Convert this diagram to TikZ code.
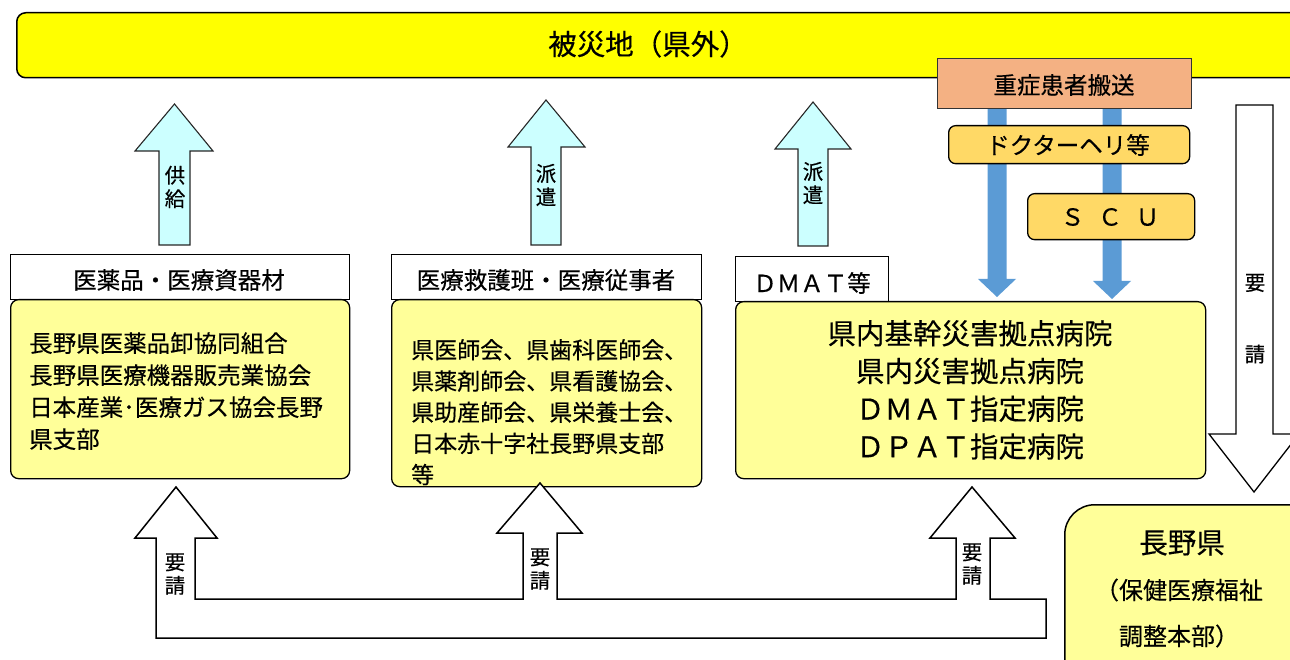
\documentclass[tikz,border=0pt]{standalone}
\usepackage{fontspec}
\setmainfont{Noto Sans CJK JP}[FakeBold=0.35]
\definecolor{topyellow}{HTML}{FFFF00}
\definecolor{lightyellow}{HTML}{FFFF99}
\definecolor{lightcyan}{HTML}{CCFFFF}
\definecolor{salmonbox}{HTML}{F4B183}
\definecolor{goldbox}{HTML}{FFD966}
\definecolor{bluearrow}{HTML}{5B9BD5}
\begin{document}
\begin{tikzpicture}[x=1pt,y=-1pt,line join=miter,
  fsmall/.style={font=\fontsize{20.5}{23.5}\selectfont},
  fmid/.style={font=\fontsize{23.5}{32}\selectfont},
  fbig/.style={font=\fontsize{28.5}{37.7}\selectfont},
  hdrbox/.style={draw=black,fill=white,line width=1.2,inner sep=0,fmid},
  bodybox/.style={draw=black,fill=lightyellow,line width=1.3,rounded corners=8,inner sep=0},
  goldrect/.style={draw=black,fill=goldbox,line width=1.3,rounded corners=7,inner sep=0,fmid},
  uparrow/.style={draw=black!85,fill=lightcyan,line width=1.1},
  hollowarrow/.style={draw=black,fill=white,line width=1.5},
  bluearr/.style={fill=bluearrow,draw=none}]
\useasboundingbox (0,0) rectangle (1290,660);
\clip (0,0) rectangle (1290,660);

% top bar
\node[draw=black,fill=topyellow,line width=1.5,rounded corners=9,inner sep=0,
      minimum width=1300,minimum height=65,anchor=north west] (topbar) at (16,12) {};
\node[fbig,inner sep=0] (toptext) at (648,44) {被災地（県外）};

% blue arrows (under boxes)
\coordinate (blA) at (997,108);
\coordinate (blB) at (1112,108);
\fill[bluearr] (987.5,108) -- (987.5,279) -- (978,279) -- (997,297) -- (1016,279) -- (1006.5,279) -- (1006.5,108) -- cycle;
\fill[bluearr] (1102.5,108) -- (1102.5,281) -- (1093,281) -- (1112,299) -- (1131,281) -- (1121.5,281) -- (1121.5,108) -- cycle;

% orange box
\node[draw=black!80,fill=salmonbox,line width=1.3,inner sep=0,fmid,
      minimum width=254,minimum height=50,anchor=north west] (juusho) at (937,58) {};
\node[fmid,inner sep=0] (juushotext) at (1064,85) {重症患者搬送};

% doctor heli and SCU
\node[goldrect,minimum width=241,minimum height=38,anchor=north west] (heli) at (948,125) {};
\node[fmid,inner sep=0] (helitext) at (1068,145) {ドクターヘリ等};
\node[goldrect,minimum width=167,minimum height=46,anchor=north west] (scu) at (1027,193) {};
\node[fmid,inner sep=0] (scutext) at (1110,217) {Ｓ\hspace{14pt}Ｃ\hspace{14pt}Ｕ};

% right down arrow
\draw[hollowarrow,line width=1.3] (1236,105) -- (1236,434) -- (1209,434) -- (1254,492) -- (1299,434) -- (1273,434) -- (1273,105) -- cycle;
\node[fsmall,inner sep=0] (yoseiR1) at (1255,283) {要};
\node[fsmall,inner sep=0] (yoseiR2) at (1255,354) {請};

% up arrows
\draw[uparrow] (159,245) -- (159,151) -- (135,151) -- (174.5,104) -- (213,151) -- (190,151) -- (190,245) -- cycle;
\node[fsmall,align=center,inner sep=0] (kyoukyuu) at (175,187) {供\\給};
\draw[uparrow] (531,245) -- (531,147) -- (508,147) -- (546,100) -- (585,147) -- (561,147) -- (561,245) -- cycle;
\node[fsmall,align=center,inner sep=0] (haken1) at (546,185) {派\\遣};
\draw[uparrow] (798,246) -- (798,149) -- (775,149) -- (813,102) -- (851,149) -- (828,149) -- (828,246) -- cycle;
\node[fsmall,align=center,inner sep=0] (haken2) at (813,183) {派\\遣};

% left column
\node[hdrbox,minimum width=339,minimum height=45,anchor=north west] (h1) at (10,254) {};
\node[fmid,inner sep=0] (h1text) at (179,280) {医薬品・医療資器材};
\node[bodybox,minimum width=339,minimum height=179,anchor=north west] (b1) at (10,299) {};
\node[fmid,align=left,inner sep=0,anchor=north west] (b1text) at (29,332)
  {長野県医薬品卸協同組合\\長野県医療機器販売業協会\\日本産業･医療ガス協会長野\\県支部};

% middle column
\node[hdrbox,minimum width=310,minimum height=45,anchor=north west] (h2) at (391,254) {};
\node[fmid,inner sep=0] (h2text) at (546,280) {医療救護班・医療従事者};
\node[bodybox,minimum width=310,minimum height=187,anchor=north west] (b2) at (391,299) {};
\node[fmid,align=left,inner sep=0,anchor=north west,font=\fontsize{23}{31.2}\selectfont] (b2text) at (411,339)
  {県医師会、県歯科医師会、\\県薬剤師会、県看護協会、\\県助産師会、県栄養士会、\\日本赤十字社長野県支部\\等};

% right column
\node[hdrbox,minimum width=153,minimum height=45,anchor=north west] (h3) at (735,256) {};
\node[fmid,inner sep=0] (h3text) at (812,283) {ＤＭＡＴ等};
\node[bodybox,minimum width=470,minimum height=177,anchor=north west] (b3) at (735,301) {};
\node[fbig,align=center,inner sep=0,anchor=north] (b3text) at (970,320)
  {県内基幹災害拠点病院\\県内災害拠点病院\\ＤＭＡＴ指定病院\\ＤＰＡＴ指定病院};

% Nagano box
\node[draw=black,fill=lightyellow,line width=1.5,rounded corners=30,inner sep=0,
      minimum width=260,minimum height=220,anchor=north west] (nagano) at (1064,504) {};
\node[fbig,inner sep=0] (nagano1) at (1182,543) {長野県};
\node[inner sep=0,font=\fontsize{24}{28}\selectfont] (nagano2) at (1179,590) {（保健医療福祉};
\node[inner sep=0,font=\fontsize{24}{28}\selectfont] (nagano3) at (1179,636) {調整本部）};

% bottom request arrows
\draw[hollowarrow] (156,638) -- (156,538) -- (135,538) -- (176,487) -- (217,538) -- (195,538)
  -- (195,599) -- (523,599) -- (523,533) -- (497,533) -- (540,483) -- (582,533) -- (557,533)
  -- (557,599) -- (956,599) -- (956,538) -- (930,538) -- (972,487) -- (1015,538) -- (990,538)
  -- (990,599) -- (1046,599) -- (1046,638) -- cycle;
\node[fsmall,align=center,inner sep=0] (yoseiA) at (175,574) {要\\請};
\node[fsmall,align=center,inner sep=0] (yoseiB) at (540,569) {要\\請};
\node[fsmall,align=center,inner sep=0] (yoseiC) at (972,564) {要\\請};
\end{tikzpicture}
\end{document}
